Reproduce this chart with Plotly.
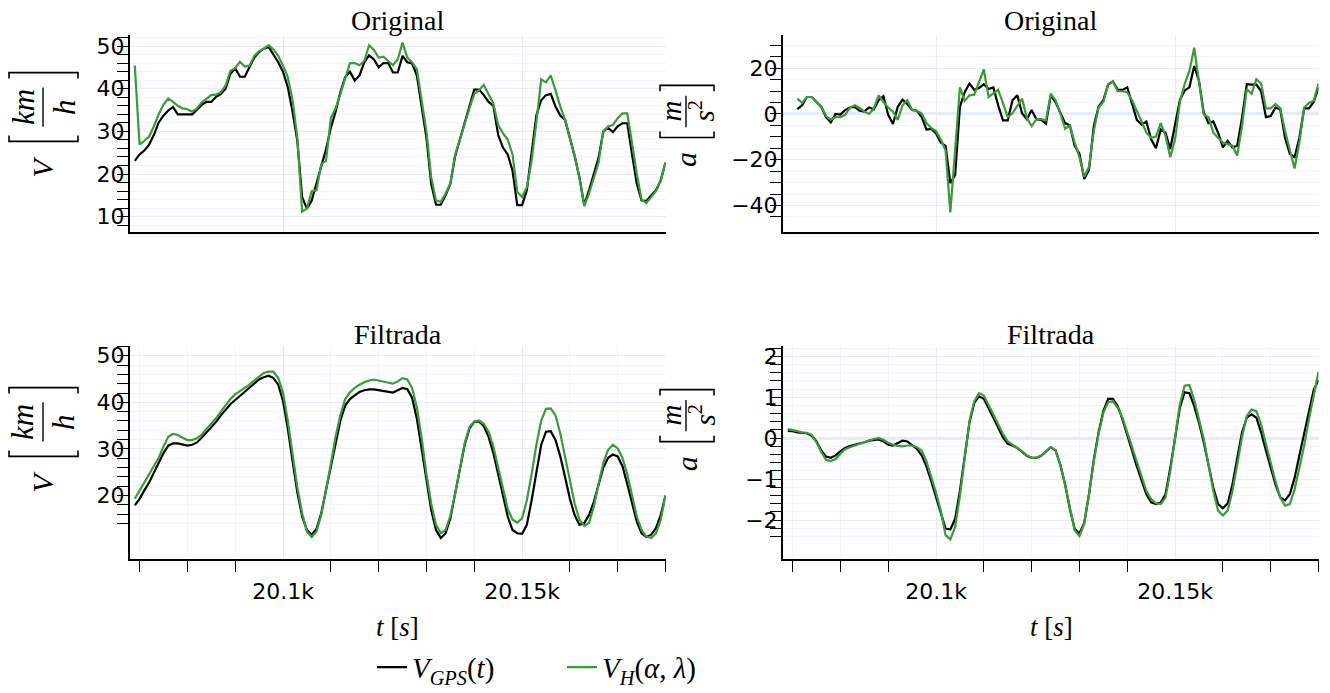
import plotly.graph_objects as go

W, H = 1330, 693

# ---------------- data ----------------
t_start = 20069
t_acc_start = 20071

v_gps_orig = [23.1, 24.6, 25.5, 26.9, 29.2, 32.1, 33.7, 34.9, 35.7, 34.0,
              34.0, 34.0, 34.0, 35.1, 36.2, 36.9, 36.9, 38.1, 38.8, 40.0,
              43.5, 44.8, 42.8, 42.8, 45.0, 47.3, 48.6, 49.4, 49.8, 48.1,
              46.2, 44.0, 40.4, 34.6, 27.7, 14.6, 11.9, 13.8, 17.7, 21.9,
              25.8, 30.8, 34.6, 39.2, 42.7, 44.0, 41.9, 43.1, 46.2, 47.8,
              46.9, 45.0, 46.0, 46.0, 43.8, 43.8, 47.7, 46.2, 45.9, 43.1,
              36.2, 28.5, 17.7, 12.8, 12.8, 15.0, 17.7, 24.2, 28.1, 31.9,
              35.8, 39.8, 39.8, 38.5, 36.9, 36.0, 29.2, 26.2, 24.6, 20.8,
              12.7, 12.7, 16.2, 24.6, 33.8, 37.3, 38.5, 38.8, 35.8, 33.7,
              32.7, 28.5, 24.2, 19.2, 12.7, 16.2, 20.0, 23.8, 30.0, 30.8,
              29.8, 31.2, 31.9, 31.9, 24.6, 17.7, 13.8, 13.7, 15.0, 16.2, 18.5, 22.7]

v_h_orig = [45.4, 26.9, 27.8, 28.8, 31.2, 34.0, 36.3, 37.7, 36.9, 36.0,
            35.4, 35.2, 34.6, 35.4, 36.8, 37.7, 38.5, 38.6, 39.2, 40.8,
            44.2, 44.8, 46.3, 45.2, 45.4, 47.7, 48.8, 49.4, 50.2, 49.2,
            47.7, 45.4, 42.7, 37.3, 28.5, 11.2, 11.9, 16.0, 16.2, 22.3,
            23.1, 33.1, 35.4, 38.8, 42.3, 46.0, 46.0, 45.5, 46.5, 50.2,
            49.1, 47.3, 47.5, 46.5, 45.5, 46.9, 50.8, 47.3, 46.2, 44.6,
            37.7, 30.0, 19.2, 13.8, 13.5, 15.4, 17.8, 24.6, 28.1, 31.9,
            35.4, 38.8, 39.6, 40.9, 38.5, 36.5, 31.5, 29.6, 28.1, 24.6,
            15.8, 14.6, 16.9, 23.1, 32.3, 42.2, 41.5, 43.1, 39.6, 35.8,
            32.7, 28.5, 24.2, 19.2, 12.5, 15.4, 19.2, 22.7, 30.0, 31.2,
            31.5, 33.1, 34.2, 34.2, 27.3, 20.0, 14.0, 13.2, 14.6, 16.0, 18.5, 22.7]

a_gps_orig = [2.1, 3.8, 7.4, 7.4, 5.2, 3.1, -1.4, -3.7, 0.0, -0.3,
              1.7, 2.8, 3.1, 1.4, 1.0, 2.8, 2.0, 6.0, 7.7, -0.4,
              -4.4, 3.1, 6.2, 4.3, 1.7, 1.4, -1.4, -6.8, -6.5, -8.5,
              -12.5, -13.9, -30.2, -26.7, 3.1, 9.5, 13.3, 10.5, 11.3, 13.0,
              10.9, 11.6, 3.8, -2.8, -2.8, 6.0, 8.1, 0.3, -2.3, 1.7,
              -2.3, -2.6, -4.3, 8.1, 5.2, 0.3, -4.0, -5.1, -13.9, -17.4,
              -28.4, -24.5, -5.4, 3.1, 6.0, 12.8, 14.2, 10.5, 10.5, 11.6,
              4.5, -2.6, -4.7, -3.3, -11.1, -15.0, -6.8, -8.2, -15.3, -5.4,
              6.0, 10.2, 11.6, 20.9, 14.5, 0.6, -4.0, -3.3, -8.2, -14.6,
              -11.8, -14.6, -13.9, -1.8, 13.0, 12.8, 12.8, 9.9, -1.4, -0.9,
              2.8, 2.0, -10.4, -17.4, -18.9, -10.4, 2.4, 2.4, 5.2, 11.6]

a_h_orig = [6.7, 4.8, 7.4, 7.4, 5.2, 3.4, -0.9, -2.6, -1.4, -1.4,
            -0.4, 2.7, 3.8, 2.7, 1.0, 0.0, 2.4, 8.1, 5.2, 2.8,
            1.0, -2.6, 3.8, 6.0, 1.7, 1.4, 0.3, -4.0, -6.1, -7.5,
            -11.1, -16.0, -43.0, -15.3, 11.6, 5.7, 8.1, 8.4, 13.5, 19.4,
            7.4, 9.1, 10.5, 4.8, -1.4, 0.3, 3.4, 6.7, -1.8, -5.4,
            -2.3, -2.3, -2.8, 8.8, 6.0, 0.3, -6.5, -5.1, -12.5, -18.9,
            -27.4, -23.1, -7.5, 2.8, 5.2, 13.0, 14.2, 9.9, 9.9, 9.5,
            6.0, 1.7, -3.3, -8.2, -10.4, -9.9, -4.0, -9.6, -18.9, -11.1,
            5.2, 13.0, 18.7, 28.9, 15.2, -0.4, -1.4, -8.2, -10.4, -12.5,
            -13.2, -13.9, -18.2, -5.4, 10.9, 8.8, 15.2, 13.3, 2.4, 2.4,
            4.3, 2.4, -7.5, -15.6, -23.8, -12.5, 2.8, 4.8, 5.7, 13.3]

v_gps_filt = [17.9, 19.3, 21.1, 22.8, 24.9, 27.0, 29.1, 30.7, 31.2, 31.2,
              31.0, 30.7, 30.9, 31.4, 32.4, 33.5, 34.5, 35.8, 37.2, 38.4,
              39.6, 40.5, 41.4, 42.2, 43.1, 44.2, 44.9, 45.4, 45.7, 45.2,
              43.8, 40.3, 34.4, 27.4, 20.7, 15.5, 12.6, 11.6, 12.8, 16.2,
              21.1, 26.3, 31.6, 36.1, 39.3, 40.7, 41.5, 42.2, 42.6, 42.8,
              42.8, 42.6, 42.4, 42.2, 42.1, 42.6, 43.1, 42.8, 41.0, 36.5,
              30.2, 23.2, 16.9, 12.6, 10.9, 11.9, 15.1, 20.4, 26.0, 30.9,
              34.4, 35.8, 35.9, 34.9, 32.6, 29.1, 24.6, 19.7, 15.5, 12.6,
              11.9, 11.8, 13.7, 19.0, 25.3, 30.9, 33.7, 33.8, 31.9, 28.4,
              23.9, 19.3, 15.8, 13.7, 14.1, 15.8, 18.6, 22.5, 26.0, 28.1,
              28.8, 28.4, 26.3, 22.5, 18.3, 14.4, 11.9, 11.1, 11.6, 13.0, 15.8, 20.0]

v_h_filt = [19.3, 21.1, 22.8, 24.6, 26.3, 28.1, 30.5, 32.6, 33.2, 33.0,
            32.4, 31.9, 31.9, 32.3, 33.1, 34.2, 35.4, 36.6, 38.0, 39.3,
            40.7, 41.7, 42.4, 43.1, 43.8, 44.7, 45.6, 46.3, 46.6, 46.6,
            45.2, 42.1, 36.1, 28.8, 21.8, 16.2, 12.3, 11.1, 12.3, 15.8,
            21.1, 26.7, 32.6, 37.2, 40.7, 42.1, 43.1, 43.8, 44.3, 44.7,
            44.9, 44.7, 44.5, 44.2, 44.0, 44.5, 45.2, 44.9, 43.1, 38.9,
            32.3, 24.6, 18.3, 13.7, 11.9, 12.6, 15.6, 20.4, 26.0, 31.2,
            34.7, 35.9, 36.1, 35.4, 33.7, 30.5, 26.0, 21.4, 17.2, 14.8,
            14.2, 15.1, 19.0, 24.6, 30.9, 36.1, 38.6, 38.7, 37.2, 33.3,
            28.1, 22.8, 18.3, 14.8, 13.5, 14.1, 17.6, 22.5, 27.0, 29.8,
            30.9, 30.1, 28.1, 24.6, 19.7, 15.5, 12.6, 11.2, 10.9, 11.9, 14.8, 20.0]

a_gps_filt = [0.18, 0.17, 0.14, 0.13, 0.12, 0.06, -0.08, -0.30, -0.45, -0.48,
              -0.42, -0.32, -0.24, -0.19, -0.16, -0.14, -0.10, -0.06, -0.04, -0.03,
              -0.08, -0.16, -0.18, -0.11, -0.06, -0.08, -0.16, -0.26, -0.42, -0.69,
              -1.05, -1.45, -1.85, -2.21, -2.23, -1.97, -1.29, -0.42, 0.38, 0.86,
              1.02, 0.96, 0.74, 0.50, 0.26, 0.02, -0.14, -0.18, -0.24, -0.34,
              -0.43, -0.48, -0.48, -0.43, -0.32, -0.22, -0.30, -0.65, -1.13, -1.73,
              -2.21, -2.33, -2.07, -1.37, -0.53, 0.14, 0.66, 0.96, 0.96, 0.78,
              0.46, 0.10, -0.30, -0.69, -1.05, -1.37, -1.57, -1.61, -1.57, -1.37,
              -0.73, 0.02, 0.74, 1.12, 1.10, 0.78, 0.38, -0.10, -0.65, -1.21,
              -1.61, -1.71, -1.60, -1.13, -0.49, 0.14, 0.50, 0.58, 0.50, 0.14,
              -0.30, -0.73, -1.13, -1.45, -1.52, -1.37, -0.97, -0.42, 0.14, 0.70, 1.18, 1.42]

a_h_filt = [0.22, 0.20, 0.17, 0.14, 0.13, 0.08, -0.10, -0.34, -0.53, -0.56,
            -0.51, -0.38, -0.27, -0.22, -0.18, -0.14, -0.10, -0.06, -0.02, 0.00,
            -0.04, -0.11, -0.16, -0.19, -0.20, -0.18, -0.18, -0.22, -0.30, -0.57,
            -0.93, -1.33, -1.77, -2.37, -2.47, -2.17, -1.41, -0.49, 0.42, 0.90,
            1.10, 1.04, 0.82, 0.58, 0.34, 0.10, -0.08, -0.16, -0.22, -0.32,
            -0.42, -0.48, -0.48, -0.43, -0.32, -0.22, -0.30, -0.65, -1.13, -1.73,
            -2.25, -2.39, -2.09, -1.37, -0.57, 0.10, 0.62, 0.88, 0.90, 0.74,
            0.50, 0.14, -0.22, -0.57, -0.93, -1.29, -1.49, -1.59, -1.61, -1.45,
            -0.81, 0.02, 0.82, 1.28, 1.30, 0.94, 0.46, -0.02, -0.65, -1.29,
            -1.77, -1.89, -1.77, -1.29, -0.65, 0.02, 0.54, 0.70, 0.66, 0.34,
            -0.14, -0.61, -1.05, -1.45, -1.65, -1.61, -1.25, -0.73, -0.18, 0.46, 1.06, 1.62]

t_vel = [t_start + k for k in range(len(v_gps_orig))]
t_acc = [t_acc_start + k for k in range(len(a_gps_orig))]

x_major = [20100, 20150]
x_major_text = ["20.1k", "20.15k"]
x_minor = [20070, 20080, 20090, 20110, 20120, 20130, 20140, 20160, 20170, 20180]

name_gps = "<i>V</i><sub><i>GPS</i></sub>(<i>t</i>)"
name_h = "<i>V</i><sub><i>H</i></sub>(<i>α</i>, <i>λ</i>)"

# ---------------- styling ----------------
BLACK = "#000000"
GREEN = "#3c9a3c"
GRID = "#E6ECF5"
GRID_MINOR = "#F1F4FA"
TICKFONT = dict(family="DejaVu Sans", size=22, color="black")
SERIF = "Liberation Serif"


def px2paper(px, py):
    return px / W, 1 - py / H


fig = go.Figure()

panels = [
    (1, t_vel, v_gps_orig, v_h_orig, True),
    (2, t_acc, a_gps_orig, a_h_orig, False),
    (3, t_vel, v_gps_filt, v_h_filt, False),
    (4, t_vel, a_gps_filt, a_h_filt, False),
]
for idx, tt, yb, yg, show in panels:
    xa = "x" if idx == 1 else f"x{idx}"
    ya = "y" if idx == 1 else f"y{idx}"
    fig.add_trace(go.Scatter(x=tt, y=yb, mode="lines", line=dict(color=BLACK, width=2.2),
                             name=name_gps, legendgroup="gps", showlegend=show, xaxis=xa, yaxis=ya))
    fig.add_trace(go.Scatter(x=tt, y=yg, mode="lines", line=dict(color=GREEN, width=2.2),
                             name=name_h, legendgroup="h", showlegend=show, xaxis=xa, yaxis=ya))

# domains in pixels
xdom_left = (130, 665.5)
xdom_right = (783, 1318.5)
ydom_top = (33, 233)
ydom_bot = (350, 567)


def xd(d):
    return [d[0] / W, d[1] / W]


def yd(d):
    return [1 - d[1] / H, 1 - d[0] / H]


def xaxis_cfg(dom, anchor, bottom):
    cfg = dict(domain=xd(dom), anchor=anchor, range=[20068, 20180],
               showline=True, linecolor="black", linewidth=2,
               showgrid=True, gridcolor=GRID, gridwidth=1, zeroline=False,
               tickmode="array", tickvals=x_major, ticktext=x_major_text,
               tickfont=TICKFONT)
    if bottom:
        cfg.update(ticks="outside", ticklen=11, tickcolor="rgba(0,0,0,0)", showticklabels=True,
                   minor=dict(tickmode="array", tickvals=x_minor, ticks="outside", ticklen=11,
                              tickcolor="black", tickwidth=1.3, showgrid=True,
                              gridcolor=GRID_MINOR, gridwidth=1))
    else:
        cfg.update(ticks="", showticklabels=False)
    return cfg


def yaxis_cfg(dom, anchor, rng, major, minor, zero=False):
    return dict(domain=yd(dom), anchor=anchor, range=rng,
                showline=True, linecolor="black", linewidth=2,
                showgrid=True, gridcolor=GRID, gridwidth=1,
                zeroline=zero, zerolinecolor=GRID, zerolinewidth=2.5,
                tickmode="array", tickvals=major, ticktext=[f"{v:g}".replace("-", "−") for v in major],
                ticks="outside", ticklen=11, tickcolor="black", tickwidth=1.3,
                tickfont=TICKFONT, ticklabelstandoff=-12,
                minor=dict(tickmode="array", tickvals=minor, ticks="outside", ticklen=11,
                           tickcolor="black", tickwidth=1.3, showgrid=True,
                           gridcolor=GRID_MINOR, gridwidth=1))


def steps(a, b, s, excl):
    out = []
    v = a
    while v <= b + 1e-9:
        r = round(v, 4)
        if all(abs(r - e) > 1e-6 for e in excl):
            out.append(r)
        v += s
    return out


v_major_top = [10, 20, 30, 40, 50]
v_major_bot = [20, 30, 40, 50]
a_major_top = [-40, -20, 0, 20]
a_major_bot = [-2, -1, 0, 1, 2]

fig.update_layout(
    xaxis=xaxis_cfg(xdom_left, "y", False),
    xaxis2=xaxis_cfg(xdom_right, "y2", False),
    xaxis3=xaxis_cfg(xdom_left, "y3", True),
    xaxis4=xaxis_cfg(xdom_right, "y4", True),
    yaxis=yaxis_cfg(ydom_top, "x", [6.5, 52.5], v_major_top, steps(8, 52, 2, v_major_top)),
    yaxis2=yaxis_cfg(ydom_top, "x2", [-51.4, 34.3], a_major_top, steps(-45, 30, 5, a_major_top), zero=True),
    yaxis3=yaxis_cfg(ydom_bot, "x3", [6.3, 52], v_major_bot, steps(14, 52, 2, v_major_bot)),
    yaxis4=yaxis_cfg(ydom_bot, "x4", [-2.96, 2.24], a_major_bot, steps(-2.4, 2.2, 0.2, a_major_bot), zero=True),
)

annotations = []
shapes = []


def text_at(txt, px, py, size, angle=0):
    x, y = px2paper(px, py)
    annotations.append(dict(text=txt, x=x, y=y, xref="paper", yref="paper", showarrow=False,
                            xanchor="center", yanchor="middle", textangle=angle,
                            font=dict(family=SERIF, size=size, color="black")))


def line_path(points, width=1.6):
    pts = [px2paper(px, py) for px, py in points]
    path = "M " + " L ".join(f"{x:.5f},{y:.5f}" for x, y in pts)
    shapes.append(dict(type="path", path=path, xref="paper", yref="paper",
                       line=dict(color="black", width=width)))


def ylabel(sym, num, den, cx, y_sym, y_lo, y_hi, x0, x1, num_dx, den_dx, frac_half, fsize):
    # rotated axis title: sym [num/den]
    text_at(f"<i>{sym}</i>", cx, y_sym, 30, -90)
    # lower bracket '[' (rotated): serifs pointing up
    line_path([(x0, y_lo - 6), (x0, y_lo), (x1, y_lo), (x1, y_lo - 6)])
    # upper bracket ']' (rotated): serifs pointing down
    line_path([(x0, y_hi + 6), (x0, y_hi), (x1, y_hi), (x1, y_hi + 6)])
    yc = (y_lo + y_hi) / 2
    text_at(num, cx + num_dx, yc, fsize, -90)
    text_at(den, cx + den_dx, yc, fsize, -90)
    line_path([(cx, yc - frac_half), (cx, yc + frac_half)], width=1.4)


ylabel("V", "<i>km</i>", "<i>h</i>", 43, 167, 141, 71, 9, 78, -20, 21, 20, 31)
ylabel("V", "<i>km</i>", "<i>h</i>", 43, 488, 462, 392, 9, 78, -20, 21, 20, 31)
ylabel("a", "<i>m</i>", "<i>s</i><sup>2</sup>", 686, 160, 137, 84, 660, 714, -15, 16, 16, 29)
ylabel("a", "<i>m</i>", "<i>s</i><sup>2</sup>", 686, 470, 447, 394, 660, 714, -15, 16, 16, 29)

# subplot titles
text_at("Original", 397.5, 18, 28)
text_at("Original", 1051, 18, 28)
text_at("Filtrada", 397.5, 338, 28)
text_at("Filtrada", 1051, 338, 28)

# x titles
text_at("<i>t</i> [<i>s</i>]", 397.5, 636, 27)
text_at("<i>t</i> [<i>s</i>]", 1051, 636, 27)

lx, ly = px2paper(372, 677)
fig.update_layout(
    width=W, height=H, autosize=False,
    margin=dict(l=0, r=0, t=0, b=0, pad=0),
    paper_bgcolor="white", plot_bgcolor="white",
    annotations=annotations, shapes=shapes,
    showlegend=True,
    legend=dict(orientation="h", x=lx, y=ly, xanchor="left", yanchor="middle",
                font=dict(family=SERIF, size=29, color="black"),
                entrywidth=145, entrywidthmode="pixels", bgcolor="rgba(0,0,0,0)"),
)

fig.write_html("out.html")
